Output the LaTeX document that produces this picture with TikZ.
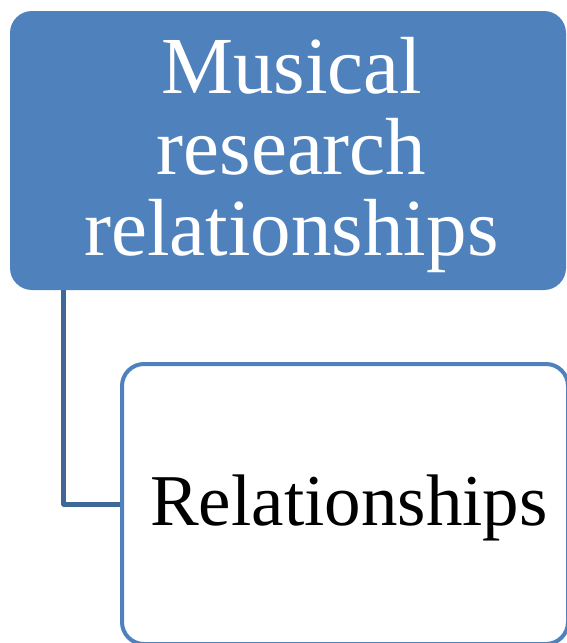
\documentclass[tikz,border=0pt]{standalone}
\usepackage{fontspec}
\setmainfont{Liberation Serif}
\usetikzlibrary{positioning}
\definecolor{boxblue}{HTML}{4F81BD}
\definecolor{linkblue}{HTML}{3F6899}
\begin{document}
\begin{tikzpicture}[x=1pt, y=-1pt, line join=round,
		topbox/.style={fill=boxblue, rounded corners=22pt, minimum width=556pt, minimum height=279pt, inner sep=0pt},
		subbox/.style={draw=boxblue, line width=4pt, fill=white, rounded corners=22pt, minimum width=446pt, minimum height=280pt, inner sep=0pt}]
			\useasboundingbox (0,0) rectangle (566,643);
			\node[topbox] (musical) at (288,150.5) {};
			\node[text=white, align=center, inner sep=0pt, font=\fontsize{81}{81}\selectfont] (musicaltext) at (291.5,155.3) {Musical\\research\\relationships};
			\node[subbox] (rel) at (345,504) {};
			\node[inner sep=0pt, font=\fontsize{73}{75}\selectfont] (reltext) at (349,508) {Relationships};
			\draw[linkblue, line width=5pt] ([xshift=54pt]musical.south west) |- (rel.west);
		\end{tikzpicture}
\end{document}
